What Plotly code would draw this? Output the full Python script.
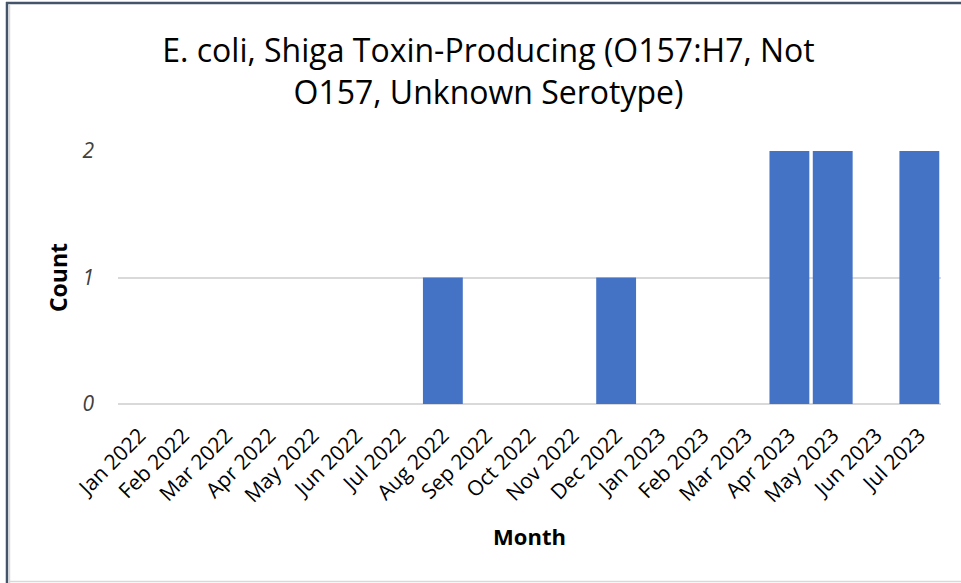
import plotly.graph_objects as go

months = ["Jan 2022", "Feb 2022", "Mar 2022", "Apr 2022", "May 2022", "Jun 2022",
          "Jul 2022", "Aug 2022", "Sep 2022", "Oct 2022", "Nov 2022", "Dec 2022",
          "Jan 2023", "Feb 2023", "Mar 2023", "Apr 2023", "May 2023", "Jun 2023",
          "Jul 2023"]
counts = [0, 0, 0, 0, 0, 0, 0, 1, 0, 0, 0, 1, 0, 0, 0, 2, 2, 0, 2]
y_ticks = [0, 1, 2]

title_text = "E. coli, Shiga Toxin-Producing (O157:H7, Not<br>O157, Unknown Serotype)"

W, H = 961, 583
L, R, T, B = 118, 941, 151, 404

fig = go.Figure(go.Bar(
    x=months, y=counts,
    marker=dict(color="#4472C4", line=dict(width=0)),
    width=0.92,
))

FONT = "Open Sans, sans-serif"

def px2x(px):
    return (px - L) / (R - L)

def py2y(py):
    return (B - py) / (B - T)

fig.update_layout(
    width=W, height=H,
    margin=dict(l=L, r=W - R, t=T, b=H - B, autoexpand=False),
    paper_bgcolor="white", plot_bgcolor="white",
    showlegend=False,
    title=dict(text=title_text, x=488.5 / W, xanchor="center",
               y=1 - 62 / H, yanchor="top",
               font=dict(family=FONT, size=32, color="#000000")),
    xaxis=dict(
        tickangle=-45,
        tickfont=dict(family=FONT, size=21, color="#000000"),
        showgrid=False, showline=False, zeroline=False,
        ticks="", ticklabelstandoff=14,
        title=dict(text="<b>Month</b>", font=dict(family=FONT, size=22, color="#000000"),
                   standoff=22),
        range=[-0.5, len(months) - 0.5],
    ),
    yaxis=dict(
        range=[0, 2], tickvals=y_ticks, ticktext=[str(v) for v in y_ticks],
        tickfont=dict(family=FONT, size=21, color="#404040", style="italic"),
        showgrid=True, gridcolor="#D9D9D9", gridwidth=2,
        zeroline=True, zerolinecolor="#D9D9D9", zerolinewidth=2,
        showline=False, ticks="", ticklabelstandoff=23,
        title=dict(text="<b>Count</b>", font=dict(family=FONT, size=23, color="#000000"),
                   standoff=8),
    ),
    shapes=[
        dict(type="line", xref="paper", yref="paper", x0=px2x(6), x1=px2x(961),
             y0=py2y(3), y1=py2y(3), line=dict(color="#44546A", width=2.5), layer="above"),
        dict(type="line", xref="paper", yref="paper", x0=px2x(7), x1=px2x(7),
             y0=py2y(2), y1=py2y(583), line=dict(color="#44546A", width=2.5), layer="above"),
        dict(type="line", xref="paper", yref="paper", x0=px2x(9.5), x1=px2x(9.5),
             y0=py2y(4), y1=py2y(583), line=dict(color="#D9D9D9", width=1.5), layer="above"),
        dict(type="line", xref="paper", yref="paper", x0=px2x(8), x1=px2x(961),
             y0=py2y(581.5), y1=py2y(581.5), line=dict(color="#D9D9D9", width=1.5), layer="above"),
    ],
)

fig.write_html("out.html", config={"displayModeBar": False},
               post_script="document.body.style.margin='0';")
